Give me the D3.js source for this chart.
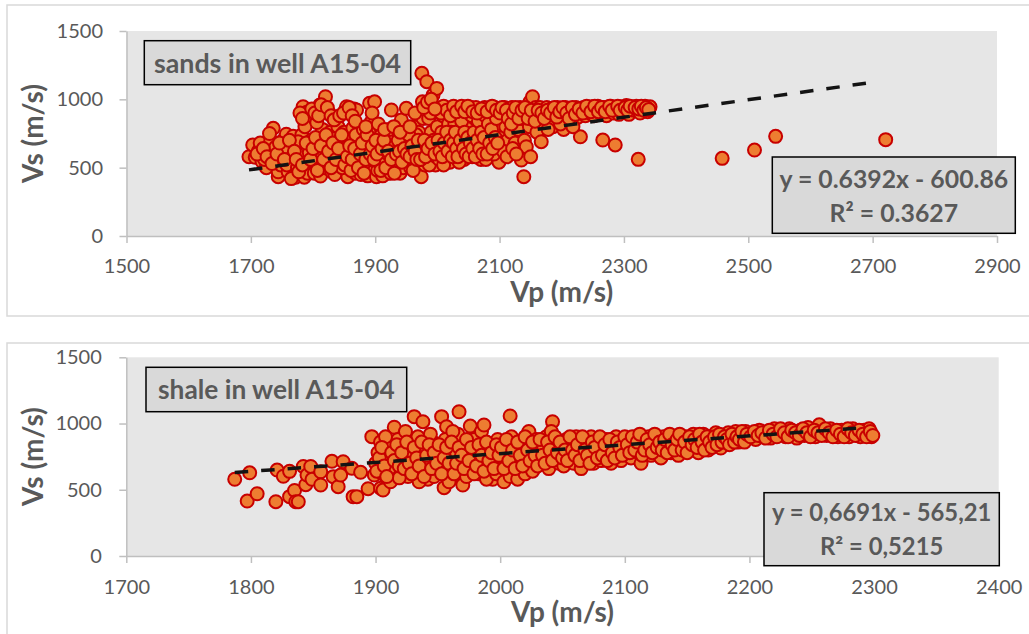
<!DOCTYPE html>
<html><head><meta charset="utf-8">
<script src="https://cdn.jsdelivr.net/npm/d3@7"></script>
<style>html,body{margin:0;padding:0;background:#fff;overflow:hidden} svg{display:block}</style>
</head><body>
<svg id="c" width="1029" height="634"></svg>
<script>
// ---------- DATA ----------
const sandsPoints = [
[1697,580],[1703,666],[1707,576],[1712,620],[1718,545],[1715,680],[1725,500],[1728,610],[1732,700],[1736,788],[1738,560],[1740,650],[1722,560],[1730,750],
[1744,434],[1744,470],[1748,520],[1750,600],[1752,700],[1757,745],[1760,470],[1763,560],[1766,640],[1768,730],[1755,650],[1758,520],[1772,430],[1775,500],[1778,580],[1780,660],[1782,740],[1784,946],[1786,430],[1788,600],[1790,905],[1792,520],[1794,610],[1795,897],[1797,700],[1799,860],[1779,900],[1787,800],[1765,420],[1776,690],[1791,460],
[1802,460],[1805,540],[1808,620],[1810,700],[1811,958],[1812,439],[1815,780],[1816,922],[1818,500],[1820,1019],[1822,600],[1824,680],[1826,900],[1828,760],[1830,470],[1806,830],[1814,570],[1819,650],[1827,540],[1833,540],[1836,630],[1838,720],[1840,800],[1842,470],[1845,580],[1848,670],[1850,760],[1852,920],[1854,946],[1856,434],[1858,520],[1860,610],[1835,450],[1844,710],[1847,500],[1853,640],[1857,700],
[1862,700],[1864,790],[1866,930],[1868,460],[1870,922],[1872,560],[1875,650],[1878,730],[1880,500],[1883,600],[1886,690],[1888,440],[1890,760],[1891,971],[1894,837],[1896,540],[1899,982],[1900,640],[1865,520],[1871,620],[1877,450],[1884,530],[1889,630],[1893,700],[1897,470],[1869,740],[1881,780],
[1902,434],[1904,480],[1906,580],[1908,700],[1910,740],[1913,520],[1916,620],[1918,680],[1920,460],[1922,560],[1924,720],[1926,922],[1928,500],[1930,620],[1933,690],[1936,760],[1938,540],[1940,460],[1905,650],[1912,440],[1915,560],[1919,720],[1925,460],[1929,580],[1932,520],[1935,640],[1907,530],[1927,660],[1923,780],
[1942,849],[1944,600],[1946,700],[1948,760],[1950,934],[1952,520],[1955,640],[1958,720],[1960,560],[1962,800],[1965,680],[1968,600],[1970,760],[1972,900],[1974,434],[1975,1190],[1976,982],[1978,640],[1980,520],[1945,500],[1949,560],[1953,680],[1957,500],[1963,540],[1966,740],[1971,640],[1975,560],[1977,860],[1983,1129],[1984,700],[1986,860],[1988,580],[1990,760],[1992,960],[1993,1031],[1995,640],[1997,520],[1999,1080],[2000,800],[1982,620],[1987,520],[1989,900],[1994,700],[1998,580],
[2003,560],[2005,660],[2007,760],[2009,880],[2012,940],[2014,600],[2016,700],[2018,820],[2020,540],[2023,640],[2025,900],[2027,740],[2030,580],[2032,680],[2034,860],[2036,940],[2038,620],[2040,780],[2043,560],[2045,700],[2047,900],[2050,640],[2010,520],[2019,930],[2028,820],[2041,930],[2048,800],[2022,760],[2035,540],
[2052,800],[2054,940],[2056,580],[2058,700],[2060,860],[2063,620],[2065,760],[2067,920],[2070,560],[2072,680],[2074,820],[2076,940],[2079,640],[2081,740],[2083,900],[2085,580],[2088,700],[2090,860],[2092,940],[2094,620],[2096,780],[2098,900],[2100,660],[2062,940],[2069,860],[2078,560],[2086,940],[2099,540],[2091,600],
[2103,720],[2105,860],[2108,940],[2110,800],[2113,700],[2116,900],[2118,760],[2120,940],[2123,840],[2125,680],[2128,900],[2130,780],[2133,940],[2135,556],[2137,860],[2139,434],[2140,700],[2143,653],[2145,900],[2148,800],[2149,982],[2150,580],[2153,1019],[2155,880],[2158,940],[2160,760],[2106,620],[2112,580],[2121,640],[2127,600],
[2163,880],[2165,940],[2167,690],[2170,830],[2173,910],[2176,940],[2180,870],[2183,930],[2186,800],[2190,900],[2193,940],[2196,860],[2200,920],[2203,780],[2206,940],[2210,880],[2213,930],[2216,850],[2220,920],[2223,940],[2226,870],[2230,726],[2232,920],[2235,940],[2238,880],[2178,780],[2198,820],[2218,800],
[2242,930],[2245,900],[2248,945],[2252,880],[2255,930],[2258,950],[2262,900],[2266,702],[2268,940],[2272,880],[2275,930],[2279,950],[2283,900],[2286,666],[2288,940],[2292,890],[2296,945],[2300,920],[2304,955],[2308,890],[2312,940],[2316,920],[2320,950],[2323,561],[2326,900],[2330,940],[2334,950],[2338,910],[2342,945],
[2458,568],[2510,629],[2544,729],[2721,705],
[1710,600],[1720,640],[1726,580],[1734,530],[1742,600],[1746,680],[1754,560],[1762,700],[1770,620],[1773,560],[1777,470],[1783,520],[1789,680],[1796,560],[1800,640],[1804,720],[1807,480],[1813,660],[1817,560],[1821,740],[1825,620],[1829,500],[1832,680],[1837,560],[1841,640],[1846,740],[1851,520],[1855,580],[1859,660],[1861,480],[1863,560],[1867,640],[1873,500],[1876,600],[1879,680],[1882,460],[1885,560],[1887,740],[1892,600],[1895,660],[1898,560],[1901,700],[1903,600],[1909,480],[1911,640],[1914,700],[1917,500],[1921,620],[1926,560],[1931,460],[1934,600],[1937,700],[1939,620],[1943,540],[1947,640],[1951,600],[1954,740],[1956,580],[1959,660],[1961,480],[1964,620],[1967,560],[1969,700],[1973,560],[1979,700],[1981,580],[1985,640],[1991,680],[1996,600],
[2001,700],[2004,620],[2008,580],[2011,680],[2015,760],[2017,620],[2021,700],[2024,580],[2026,680],[2029,760],[2031,640],[2033,580],[2037,700],[2039,840],[2042,640],[2044,760],[2046,600],[2049,720],[2051,580],[2053,680],[2055,880],[2057,640],[2059,760],[2061,580],[2064,700],[2066,840],[2068,640],[2071,760],[2073,600],[2075,720],[2077,880],[2080,600],[2082,820],[2084,680],[2087,780],[2089,640],[2093,720],[2095,860],[2097,680],
[2002,920],[2006,900],[2010,950],[2015,920],[2021,880],[2026,950],[2031,910],[2039,950],[2044,910],[2049,950],[2057,910],[2064,900],[2071,930],[2080,910],[2088,950],[2095,920],
[1783,860],[1798,930],[1803,900],[1809,880],[1813,960],[1823,940],[1829,880],[1834,850],[1843,880],[1849,900],[1858,940],[1863,880],[1868,840],[1885,800],[1895,900],[1905,820],[1915,780],[1930,800],[1940,760],[1956,800],[1964,900],[1978,940],[1984,980],[1990,1000],[1996,930],
[2101,900],[2104,940],[2111,920],[2114,860],[2119,820],[2122,900],[2126,940],[2131,860],[2136,920],[2141,940],[2146,860],[2151,920],[2157,840],[2162,920],[2168,900],[2172,860],[2177,920],[2182,900],[2188,940],[2192,870],[2197,910],[2202,940],[2208,900],[2212,860],[2217,940],[2222,890],[2228,930],[2234,900],[2240,950],[2247,910],[2253,950],[2259,910],[2264,940],[2270,910],[2277,950],[2281,920],[2290,950],[2294,920],[2302,940],[2306,920],[2310,950],[2318,940],[2324,930],[2328,950],[2332,920],[2336,940],[2340,925]
];

const shalePoints = [
[1787,579],[1797,415],[1799,628],[1805,470],[1820,410],[1821,649],[1826,602],[1831,639],[1831,448],[1835,495],[1836,410],[1838,410],[1842,676],[1844,538],[1845,611],[1848,676],[1849,579],[1856,636],[1856,536],[1865,715],[1866,599],[1870,523],[1872,611],[1874,712],[1881,662],[1882,448],[1885,448],[1888,632],[1894,508],[1897,901],[1899,611],[1904,511],[1906,498],[1915,972],
[1900,700],[1902,780],[1904,860],[1906,620],[1908,740],[1910,820],[1912,560],[1914,680],[1916,760],[1918,880],[1920,640],[1922,720],[1924,800],[1926,600],[1928,860],[1930,700],[1932,780],[1934,900],[1936,640],[1938,740],[1940,820],[1942,580],[1944,700],[1946,860],[1948,760],[1950,640],[1908,900],[1924,940],[1931,1052],[1938,1014],[1944,920],[1911,660],[1919,590],[1927,760],[1935,560],[1941,680],[1947,600],
[1952,720],[1954,800],[1955,516],[1956,880],[1958,620],[1960,760],[1962,680],[1964,840],[1966,920],[1967,1089],[1968,600],[1970,536],[1972,720],[1974,800],[1976,981],[1977,660],[1979,880],[1981,760],[1983,620],[1985,940],[1987,989],[1988,700],[1990,820],[1992,640],[1994,579],[1996,760],[1998,880],[2000,680],[1953,1052],[1957,976],[1962,940],[1959,560],[1965,780],[1973,600],[1980,700],[1989,580],[1997,620],
[2002,740],[2004,820],[2006,640],[2008,1057],[2009,900],[2011,700],[2013,780],[2015,620],[2017,860],[2019,740],[2021,680],[2023,940],[2025,800],[2027,660],[2029,880],[2031,740],[2033,700],[2035,820],[2037,900],[2039,660],[2042,1014],[2043,760],[2045,860],[2047,700],[2049,800],[2003,560],[2008,600],[2014,580],[2020,620],[2026,640],[2041,940],
[2051,680],[2053,880],[2055,760],[2057,840],[2059,700],[2061,900],[2063,780],[2065,660],[2067,860],[2069,740],[2071,820],[2073,900],[2075,700],[2077,780],[2079,860],[2081,720],[2083,800],[2085,880],[2087,760],[2089,700],[2091,840],[2093,900],[2095,780],[2097,720],[2099,860],
[2101,800],[2103,880],[2105,740],[2107,840],[2109,900],[2111,780],[2113,700],[2115,860],[2117,820],[2119,900],[2121,760],[2123,840],[2125,880],[2127,800],[2129,740],[2131,900],[2133,820],[2135,860],[2137,780],[2139,900],[2141,840],[2143,760],[2145,880],[2147,820],[2149,900],
[2151,860],[2153,800],[2155,920],[2157,840],[2159,780],[2161,880],[2163,920],[2165,840],[2167,800],[2169,900],[2171,860],[2173,930],[2175,880],[2177,815],[2179,900],[2181,860],[2183,930],[2185,880],[2187,900],[2189,940],[2191,860],[2193,920],[2195,890],[2197,940],[2199,900],
[2202,920],[2205,880],[2208,950],[2211,900],[2214,930],[2217,890],[2220,960],[2223,910],[2226,940],[2229,900],[2232,960],[2235,920],[2238,890],[2241,950],[2244,910],[2247,970],[2250,920],[2253,900],[2256,990],
[2259,940],[2262,910],[2265,960],[2268,920],[2271,900],[2274,950],[2277,920],[2280,900],[2283,960],[2286,930],[2289,900],[2292,950],[2295,920],[2298,900],[2296,960],
[1901,640],[1903,740],[1905,820],[1907,680],[1909,600],[1913,780],[1915,720],[1917,840],[1919,680],[1921,780],[1923,660],[1925,860],[1927,700],[1929,620],[1931,820],[1933,740],[1935,680],[1937,860],[1939,600],[1941,760],[1943,840],[1945,660],[1947,780],[1949,700],[1951,840],[1953,620],[1955,740],[1957,820],[1959,700],[1961,860],[1963,620],[1965,700],[1967,820],[1969,760],[1971,660],[1973,880],[1975,720],[1977,820],[1979,620],[1981,680],[1983,840],[1985,760],[1987,640],[1989,860],[1991,720],[1993,780],[1995,660],[1997,840],[1999,760],
[2001,820],[2003,660],[2005,880],[2007,720],[2010,800],[2012,660],[2014,860],[2016,760],[2018,680],[2020,900],[2022,800],[2024,720],[2026,860],[2028,760],[2030,680],[2032,880],[2034,760],[2036,700],[2038,860],[2040,800],[2042,720],[2044,900],[2046,780],[2048,860],[2050,740],[2052,800],[2054,720],[2056,900],[2058,800],[2060,760],[2062,840],[2064,720],[2066,900],[2068,800],[2070,760],[2072,700],[2074,860],[2076,820],[2078,740],[2080,900],[2082,760],[2084,840],[2086,720],[2088,880],[2090,780],[2092,740],[2094,860],[2096,820],[2098,760],[2100,900],
[2102,840],[2104,780],[2106,900],[2108,800],[2110,860],[2112,920],[2114,760],[2116,800],[2118,880],[2120,840],[2122,780],[2124,920],[2126,820],[2128,860],[2130,800],[2132,880],[2134,780],[2136,920],[2138,840],[2140,800],[2142,880],[2144,920],[2146,800],[2148,860],[2150,780],[2152,900],[2154,840],[2156,880],[2158,820],[2160,920],[2162,860],[2164,800],[2166,900],[2168,860],[2170,820],[2172,900],[2174,840],[2176,920],[2178,860],[2180,900],[2182,880],[2184,840],[2186,920],[2188,860],[2190,900],[2192,880],[2194,940],[2196,860],[2198,920],
[2201,900],[2204,940],[2207,910],[2210,930],[2213,890],[2216,950],[2219,920],[2222,900],[2225,960],[2228,930],[2231,900],[2234,950],[2237,930],[2240,910],[2243,960],[2246,930],[2249,900],[2252,950],[2255,930],[2258,910],[2261,960],[2264,930],[2267,900],[2270,950],[2273,920],[2276,900],[2279,960],[2282,930],[2285,910],[2288,950],[2291,920],[2294,900],[2297,940],[2299,910]
];

const sandsXTicks = [1500,1700,1900,2100,2300,2500,2700,2900];
const shaleXTicks = [1700,1800,1900,2000,2100,2200,2300,2400];
const vsTicks = [0,500,1000,1500];
const sandsTrend = {slope:0.6392, intercept:-600.86, range:[1697,2705]};
const shaleTrend = {slope:0.6691, intercept:-565.21, range:[1787,2293]};
const sandsText = ["sands in well A15-04","y = 0.6392x - 600.86","R² = 0.3627"];
const shaleText = ["shale in well A15-04","y = 0,6691x - 565,21","R² = 0,5215"];
const axisTitles = ["Vp (m/s)","Vs (m/s)"];

// ---------- DRAW ----------
const svg = d3.select("#c");
const FONT = "Lato, 'Open Sans', sans-serif";
const GRAY = "#595959";

function drawChart(cfg){
  const g = svg.append("g");
  g.append("rect").attr("x",cfg.border[0]).attr("y",cfg.border[1]).attr("width",cfg.border[2]).attr("height",cfg.border[3])
    .attr("fill","#fff").attr("stroke","#d9d9d9").attr("stroke-width",1.5);
  const x = d3.scaleLinear().domain(d3.extent(cfg.xTicks)).range([cfg.plot[0],cfg.plot[1]]);
  const y = d3.scaleLinear().domain(d3.extent(vsTicks)).range([cfg.plot[3],cfg.plot[2]]);
  g.append("rect").attr("x",cfg.plot[0]).attr("y",cfg.plot[2]).attr("width",cfg.plot[1]-cfg.plot[0]).attr("height",cfg.plot[3]-cfg.plot[2])
    .attr("fill","#e6e6e6");
  const ya = g.append("g").attr("transform",`translate(${cfg.plot[0]},0)`)
    .call(d3.axisLeft(y).tickValues(vsTicks).tickSize(7).tickSizeOuter(0).tickPadding(cfg.yPad).tickFormat(d3.format("d")));
  const xa = g.append("g").attr("transform",`translate(0,${cfg.plot[3]})`)
    .call(d3.axisBottom(x).tickValues(cfg.xTicks).tickSize(7).tickSizeOuter(0).tickPadding(cfg.xPad).tickFormat(d3.format("d")));
  [ya,xa].forEach(a=>{
    a.select(".domain").attr("stroke","#bfbfbf").attr("stroke-width",1.5);
    a.selectAll(".tick line").attr("stroke","#bfbfbf").attr("stroke-width",1.5);
    a.selectAll("text").attr("fill",GRAY).style("font-family",FONT).style("font-size","20px");
  });
  // points
  g.append("g").selectAll("circle").data(cfg.points).join("circle")
    .attr("cx",d=>x(d[0])).attr("cy",d=>y(d[1])).attr("r",6.5)
    .attr("fill","#ed7d31").attr("stroke","#c80000").attr("stroke-width",2);
  // trend
  const t = cfg.trend;
  g.append("path").datum(t.range.map(v=>[v,t.slope*v+t.intercept]))
    .attr("d",d3.line().x(d=>x(d[0])).y(d=>y(d[1])))
    .attr("fill","none").attr("stroke","#141414").attr("stroke-width",3.5).attr("stroke-dasharray","13.5,13");
  // title box
  const tb = cfg.titleBox;
  g.append("rect").attr("x",tb[0]).attr("y",tb[1]).attr("width",tb[2]-tb[0]).attr("height",tb[3]-tb[1])
    .attr("fill","#d9d9d9").attr("stroke","#000").attr("stroke-width",1.5);
  g.append("text").attr("x",(tb[0]+tb[2])/2).attr("y",cfg.titleBase).attr("text-anchor","middle")
    .attr("fill",GRAY).style("font-family",FONT).style("font-weight","bold").style("font-size",cfg.titleSize+"px")
    .text(cfg.text[0]);
  // equation box
  const eb = cfg.eqBox;
  g.append("rect").attr("x",eb[0]).attr("y",eb[1]).attr("width",eb[2]-eb[0]).attr("height",eb[3]-eb[1])
    .attr("fill","#d9d9d9").attr("stroke","#000").attr("stroke-width",1.5);
  [1,2].forEach((k,i)=>{
    g.append("text").attr("x",(eb[0]+eb[2])/2).attr("y",cfg.eqBase[i]).attr("text-anchor","middle")
      .attr("fill",GRAY).style("font-family",FONT).style("font-weight","bold").style("font-size",cfg.eqSize+"px")
      .text(cfg.text[k]);
  });
  // axis titles
  g.append("text").attr("x",(cfg.plot[0]+cfg.plot[1])/2).attr("y",cfg.xTitleBase).attr("text-anchor","middle")
    .attr("fill",GRAY).style("font-family",FONT).style("font-weight","bold").style("font-size","28px").text(axisTitles[0]);
  const yc = (cfg.plot[2]+cfg.plot[3])/2;
  g.append("text").attr("transform",`translate(${cfg.yTitleX},${yc}) rotate(-90)`).attr("text-anchor","middle")
    .attr("dominant-baseline","central")
    .attr("fill",GRAY).style("font-family",FONT).style("font-weight","bold").style("font-size","28px").text(axisTitles[1]);
}

drawChart({
  border:[7,5,1040,311], plot:[126.5,997,31,236], xTicks:sandsXTicks, points:sandsPoints, trend:sandsTrend,
  yPad:16.5, xPad:16, titleBox:[144.3,40.7,410.7,84.7], titleBase:73, titleSize:26.8, text:sandsText,
  eqBox:[772.3,157,1015.3,233.3], eqBase:[188.3,221.7], eqSize:24.8, xTitleBase:302, yTitleX:32
});
drawChart({
  border:[7,343,1040,320], plot:[126.3,998.7,357.3,556], xTicks:shaleXTicks, points:shalePoints, trend:shaleTrend,
  yPad:17.5, xPad:17, titleBox:[146,367.3,406.7,411.7], titleBase:398.5, titleSize:26.3, text:shaleText,
  eqBox:[764,492.7,999.3,565.7], eqBase:[521,555], eqSize:23.8, xTitleBase:622, yTitleX:32
});
</script>
</body></html>
